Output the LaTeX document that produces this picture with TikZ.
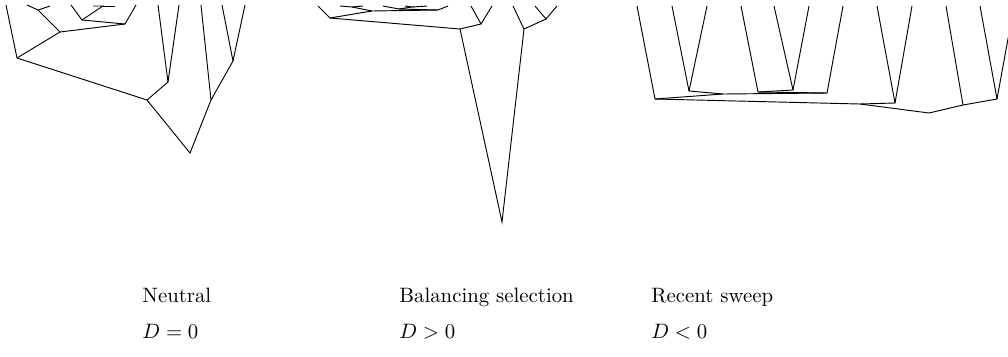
\documentclass[tikz,border=0pt]{standalone}
\usepackage{tikz}
\usetikzlibrary{positioning}

\begin{document}
\begin{tikzpicture}[x=0.016895cm, y=-0.016895cm, branch/.style={draw, black, line width=0.45pt, line join=miter}, lbl/.style={anchor=base west, inner sep=0pt, font=\normalsize}]
\useasboundingbox (0,0) rectangle (1008,356);
\clip (0,0) rectangle (1008,356);
% neutral tree
\coordinate (nA) at (17,58); \coordinate (nB) at (60,32); \coordinate (nB1) at (38,10); \coordinate (nC) at (125,24); \coordinate (nD) at (82,20); \coordinate (nD1) at (103,6);
\coordinate (nE) at (147,100); \coordinate (nF) at (168,82); \coordinate (nroot) at (190,153); \coordinate (nG) at (211,100); \coordinate (nH) at (233,61);
\coordinate (nl1) at (6,5); \coordinate (nl2) at (27,5); \coordinate (nl3) at (50,6); \coordinate (nl4) at (136,5); \coordinate (nl5) at (71,5); \coordinate (nl6) at (93,6); \coordinate (nl7) at (115,6);
\coordinate (nl8) at (158,5); \coordinate (nl9) at (179,5); \coordinate (nl10) at (201,5); \coordinate (nl11) at (222,5); \coordinate (nl12) at (245,5);
\draw[branch] (nl1) -- (nA) -- (nE) -- (nroot) -- (nG) -- (nH) -- (nl12); \draw[branch] (nA) -- (nB) -- (nC) -- (nl4); \draw[branch] (nB) -- (nB1) -- (nl2); \draw[branch] (nB1) -- (nl3);
\draw[branch] (nC) -- (nD) -- (nl5); \draw[branch] (nD) -- (nD1) -- (nl6); \draw[branch] (nD1) -- (nl7); \draw[branch] (nE) -- (nF) -- (nl8); \draw[branch] (nF) -- (nl9); \draw[branch] (nG) -- (nl10); \draw[branch] (nH) -- (nl11);
% balancing selection tree
\coordinate (broot) at (502,222); \coordinate (bL) at (460,29); \coordinate (bR) at (524,29); \coordinate (bR1) at (546,19); \coordinate (bL1) at (481,24); \coordinate (bL2) at (330,18);
\coordinate (bM) at (372,11); \coordinate (bM1) at (352,7); \coordinate (bN) at (438,10); \coordinate (bP) at (399,9); \coordinate (bP1) at (412,7);
\coordinate (bl1) at (513,6); \coordinate (bl2) at (535,6); \coordinate (bl3) at (557,6); \coordinate (bl4) at (471,6); \coordinate (bl5) at (492,6); \coordinate (bl6) at (318,6);
\coordinate (bl7) at (340,6); \coordinate (bl8) at (363,6); \coordinate (bl9) at (448,6); \coordinate (bl10) at (383,6); \coordinate (bl11) at (405,6); \coordinate (bl12) at (427,6);
\draw[branch] (bL) -- (broot) -- (bR) -- (bR1) -- (bl3); \draw[branch] (bR) -- (bl1); \draw[branch] (bR1) -- (bl2); \draw[branch] (bL) -- (bL1) -- (bl4); \draw[branch] (bL1) -- (bl5);
\draw[branch] (bL) -- (bL2) -- (bl6); \draw[branch] (bL2) -- (bM) -- (bN) -- (bl9); \draw[branch] (bM) -- (bM1) -- (bl7); \draw[branch] (bM1) -- (bl8);
\draw[branch] (bN) -- (bP) -- (bl10); \draw[branch] (bP) -- (bP1) -- (bl11); \draw[branch] (bP1) -- (bl12);
% recent sweep tree
\coordinate (sA) at (655,99); \coordinate (sN2) at (689,91); \coordinate (sX) at (723,94); \coordinate (sW) at (827,93); \coordinate (sY) at (758,92); \coordinate (sN4) at (793,90);
\coordinate (sP) at (860,104); \coordinate (sN7) at (895,103); \coordinate (sroot) at (929,113); \coordinate (sQ) at (963,105); \coordinate (sR) at (997,99);
\coordinate (sl1) at (637,6); \coordinate (sl2) at (672,6); \coordinate (sl3) at (707,6); \coordinate (sl4) at (843,6); \coordinate (sl5) at (741,6); \coordinate (sl6) at (774,6);
\coordinate (sl7) at (809,6); \coordinate (sl8) at (877,6); \coordinate (sl9) at (912,6); \coordinate (sl10) at (946,6); \coordinate (sl11) at (980,6); \coordinate (sl12) at (1014,6);
\draw[branch] (sl1) -- (sA) -- (sP) -- (sroot) -- (sQ) -- (sR) -- (sl12); \draw[branch] (sA) -- (sX) -- (sW) -- (sl4); \draw[branch] (sX) -- (sN2) -- (sl2); \draw[branch] (sN2) -- (sl3);
\draw[branch] (sW) -- (sY) -- (sl5); \draw[branch] (sY) -- (sN4) -- (sl6); \draw[branch] (sN4) -- (sl7); \draw[branch] (sP) -- (sN7) -- (sl8); \draw[branch] (sN7) -- (sl9);
\draw[branch] (sQ) -- (sl10); \draw[branch] (sR) -- (sl11);
% labels
\node[lbl] (neutral) at (142,302) {Neutral}; \node[lbl] (dneutral) at (142,338) {$D=0$};
\node[lbl] (balancing) at (399,302) {Balancing selection}; \node[lbl] (dbalancing) at (399,338) {$D>0$};
\node[lbl] (sweep) at (651,302) {Recent sweep}; \node[lbl] (dsweep) at (651,338) {$D<0$};
\end{tikzpicture}
\end{document}
